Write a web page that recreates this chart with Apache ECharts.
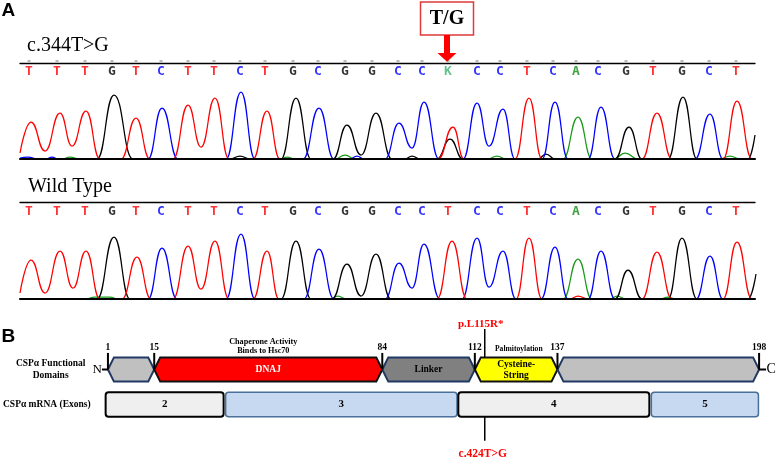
<!DOCTYPE html>
<html><head><meta charset="utf-8">
<script src="https://cdn.jsdelivr.net/npm/echarts@6/dist/echarts.min.js"></script>
<style>html,body{margin:0;padding:0;background:#fff}#c{width:778px;height:461px}</style>
</head><body><div id="c"></div>
<script>
// ---------- Panel A: sequencing data ----------
const mutBases = ['T','T','T','G','T','C','T','T','C','T','G','C','G','G','C','C','K','C','C','T','C','A','C','G','T','G','C','T'];
const wtBases  = ['T','T','T','G','T','C','T','T','C','T','G','C','G','G','C','C','T','C','C','T','C','A','C','G','T','G','C','T'];
const basePos  = [29,57,85,112,136,161,188,214,240,265,293,318,345,372,398,422,448,477,500,527,553,576,598,626,653,682,709,736];
const variantIndex = 16;
const variantLabel = 'T/G';
const mutLabel = 'c.344T>G';
const wtLabel = 'Wild Type';

// chromatogram key points [scan position, signal]
const mutT = [[20,6],[31,37],[45,8],[60,46],[72,13],[86,48],[100,0],[121,0],[136,41],[150,0],[173,0],[188,54],[201,12],[215,61],[229,0],[253,0],[267,48],[280,0],[438,0],[453,32],[464,0],[515,0],[529,61],[542,0],[642,0],[657,46],[672,0],[723,0],[737,58],[752,0],[755,0]];
const mutC = [[20,1],[28,2],[38,0],[46,0],[52,2],[58,0],[148,0],[162,51],[178,0],[226,0],[241,67],[255,0],[303,0],[319,51],[334,0],[350,0],[357,3],[364,0],[385,0],[399,36],[412,11],[424,57],[439,0],[463,0],[477,56],[489,13],[503,50],[515,0],[542,0],[555,57],[568,0],[588,0],[601,52],[615,0],[695,0],[710,45],[723,0],[755,0]];
const mutG = [[20,0],[97,0],[114,64],[133,0],[230,0],[240,3],[250,0],[281,0],[296,61],[311,0],[333,0],[347,34],[361,4],[376,46],[392,0],[405,0],[412,3],[420,0],[437,0],[450,20],[463,0],[538,0],[546,5],[555,0],[615,0],[629,32],[642,0],[668,0],[683,62],[697,0],[748,0],[755,24]];
const mutA = [[20,0],[62,0],[70,2],[80,0],[280,0],[287,2],[295,0],[335,0],[345,4],[355,0],[488,0],[497,3],[506,0],[563,0],[578,42],[592,0],[614,0],[625,6],[638,0],[720,0],[730,3],[740,0],[755,0]];

const wtT = [[20,6],[31,39],[45,6],[60,48],[73,11],[86,48],[100,0],[122,0],[137,42],[151,0],[173,0],[188,53],[201,10],[215,58],[229,0],[253,0],[267,48],[279,0],[437,0],[452,58],[467,0],[516,0],[529,61],[542,0],[570,0],[578,3],[588,0],[642,0],[657,47],[672,0],[723,0],[737,57],[752,0],[755,0]];
const wtC = [[20,0],[148,0],[162,51],[177,0],[226,0],[241,65],[255,0],[304,0],[319,50],[334,0],[385,0],[399,36],[412,11],[424,55],[440,0],[462,0],[477,61],[489,12],[503,48],[516,0],[541,0],[555,52],[568,0],[588,0],[601,48],[615,0],[696,0],[710,43],[723,0],[755,0]];
const wtG = [[20,0],[97,0],[114,62],[130,0],[281,0],[296,58],[311,0],[332,0],[347,35],[361,3],[376,45],[391,0],[615,0],[628,29],[642,0],[668,0],[682,61],[697,0],[748,0],[756,25]];
const wtA = [[20,0],[85,0],[95,2],[110,2],[118,0],[330,0],[338,3],[346,0],[563,0],[578,40],[592,0],[610,0],[617,3],[626,0],[660,0],[668,2],[676,0],[755,0]];

// ---------- Panel B: protein / mRNA map ----------
const rowLabels = ['CSPα Functional Domains', 'CSPα mRNA (Exons)'];
const domainNames = ['', 'DNAJ', 'Linker', 'Cysteine-\nString', ''];
const domainStart = [1, 15, 84, 112, 137];
const domainEnd   = [15, 84, 112, 137, 198];
const boundaryRes = [1, 15, 84, 112, 137, 198];
const exonLabels = ['2', '3', '4', '5'];
const exonStart = [0.3, 36.6, 107, 165.4];
const exonEnd   = [36, 106.6, 164.8, 197.8];
const annotText = ['Chaperone Activity\nBinds to Hsc70', 'Palmitoylation'];
const annotRes  = [48, 125.3];
const mutationRes = 115;
const proteinChange = 'p.L115R*';
const cdnaChange = 'c.424T>G';

// ---------- styles ----------
const letterColor = {T:'#ff0000', C:'#0000ff', G:'#000000', A:'#138a13', K:'#3cb371'};
const traceColor = {T:'#ff0000', C:'#0000ff', G:'#000000', A:'#1a9a1a'};
const domainFill   = ['#c0c0c0', '#ff0000', '#808080', '#ffff00', '#c0c0c0'];
const domainStroke = ['#1f3864', '#111111', '#1f3864', '#111111', '#1f3864'];
const domainText   = ['#000', '#ffffff', '#000', '#000', '#000'];
const exonFill   = ['#efefef', '#c6d9f1', '#efefef', '#c6d9f1'];
const exonStroke = ['#000000', '#4a6f98', '#000000', '#4a6f98'];
const exonLW = [2, 1.5, 2, 1.5];
const SERIF = '"Liberation Serif", "Times New Roman", serif';

const chart = echarts.init(document.getElementById('c'), null, {renderer:'canvas'});

function traceSeries(data, color, gi) {
  return {type:'line', xAxisIndex:gi, yAxisIndex:gi, data, symbol:'none', showSymbol:false,
    smooth:0.5, smoothMonotone:'x', lineStyle:{color, width:1.25}, silent:true, z:3};
}
function letterSeries(bases, gi) {
  return {type:'scatter', xAxisIndex:gi, yAxisIndex:gi, symbolSize:0, silent:true, z:5,
    data: bases.map((b,i)=>({value:[basePos[i],0.5], label:{color:letterColor[b]}})),
    label:{show:true, position:'inside', formatter:p=>bases[p.dataIndex],
      fontFamily:'"DejaVu Sans Mono", "Liberation Mono", monospace', fontWeight:'bold', fontSize:13}};
}
const gridA = (top, height) => ({left:20, width:735, top, height});
const hiddenX = (pos, showLine, lw) => ({type:'value', min:20, max:755, position:pos, z:10,
  axisLine:{show:showLine, onZero:false, lineStyle:{color:'#000', width:lw}}, axisTick:{show:false},
  axisLabel:{show:false}, splitLine:{show:false}});
const hiddenY = (max) => ({type:'value', min:0, max, show:false});

const option = {
  animation:false,
  backgroundColor:'#fff',
  grid:[gridA(63,18), gridA(89,70), gridA(202.5,18), gridA(229,70), {left:100.1, width:665.6, top:352, height:70}],
  xAxis:[hiddenX('top',true,1.3), hiddenX('bottom',true,2.2), hiddenX('top',true,1.3), hiddenX('bottom',true,2.2),
    {type:'value', min:0, max:200, gridIndex:4, show:false}].map((a,i)=>Object.assign(a,{gridIndex:i})),
  yAxis:[hiddenY(1), hiddenY(70), hiddenY(1), hiddenY(70),
    {type:'category', data:rowLabels, inverse:true, axisLine:{show:false}, axisTick:{show:false}, splitLine:{show:false},
     axisLabel:{margin:14, formatter:(v,i)=> i===0 ? '{a|CSPα Functional}\n{a|Domains}' : '{b|'+v+'}',
       rich:{a:{width:80, align:'center', fontFamily:SERIF, fontWeight:'bold', fontSize:9.5, lineHeight:11.5, color:'#000'},
             b:{fontFamily:SERIF, fontWeight:'bold', fontSize:9.5, color:'#000'}}}}
  ].map((a,i)=>Object.assign(a,{gridIndex:i})),
  graphic:[
    {type:'text', x:1.5, y:10.5, style:{text:'A', font:'bold 19px "Liberation Sans", Arial, sans-serif', fill:'#000', verticalAlign:'middle'}},
    {type:'text', x:1.5, y:336.5, style:{text:'B', font:'bold 19px "Liberation Sans", Arial, sans-serif', fill:'#000', verticalAlign:'middle'}},
    {type:'text', x:27, y:46, style:{text:mutLabel, font:'20px '+SERIF, fill:'#000', verticalAlign:'middle'}},
    {type:'text', x:28, y:186.5, style:{text:wtLabel, font:'20px '+SERIF, fill:'#000', verticalAlign:'middle'}}
  ],
  series:[
    traceSeries(mutA, traceColor.A, 1), traceSeries(mutG, traceColor.G, 1), traceSeries(mutC, traceColor.C, 1), traceSeries(mutT, traceColor.T, 1),
    traceSeries(wtA, traceColor.A, 3), traceSeries(wtG, traceColor.G, 3), traceSeries(wtC, traceColor.C, 3), traceSeries(wtT, traceColor.T, 3),
    letterSeries(mutBases, 0), letterSeries(wtBases, 2),
    // quality ticks above mutant base calls
    {type:'scatter', xAxisIndex:0, yAxisIndex:0, silent:true, symbol:'rect', symbolSize:[3,1.5], symbolOffset:[0,-11],
     itemStyle:{color:'#8a8a8a'}, data: mutBases.map((b,i)=>[basePos[i],0.5])},
    // variant call box + arrow
    {type:'custom', xAxisIndex:0, yAxisIndex:0, silent:true, z:6, data:[[basePos[variantIndex],1]],
     renderItem:(params, api)=>{
       const p = api.coord([api.value(0), 1]);
       const x = p[0] - 1, y = p[1];
       return {type:'group', children:[
         {type:'rect', shape:{x:x-26.5, y:y-61, width:53, height:33}, style:{fill:'#fff', stroke:'#e03a3a', lineWidth:1.5}},
         {type:'text', style:{text:variantLabel, x:x, y:y-44, align:'center', verticalAlign:'middle', font:'bold 20px '+SERIF, fill:'#000'}},
         {type:'rect', shape:{x:x-3, y:y-28, width:6, height:18.5}, style:{fill:'#ff0000'}},
         {type:'polygon', shape:{points:[[x-9.5,y-10],[x+9.5,y-10],[x,y-1.2]]}, style:{fill:'#ff0000'}}
       ]};
     }},
    // domains
    {type:'custom', xAxisIndex:4, yAxisIndex:4, silent:true, z:4, data:domainStart.map((s,i)=>[s,0]),
     renderItem:(params, api)=>{
       const i = params.dataIndex;
       const s = api.coord([domainStart[i],0]), e = api.coord([domainEnd[i],0]);
       const h = api.size([0,1])[1]*0.69, cy = s[1], t = cy-h/2, b = cy+h/2, d = 6;
       const x0 = s[0], x1 = e[0];
       const ch = [{type:'polygon', shape:{points:[[x0,cy],[x0+d,t],[x1-d,t],[x1,cy],[x1-d,b],[x0+d,b]]},
         style:{fill:domainFill[i], stroke:domainStroke[i], lineWidth:2, lineJoin:'miter'}}];
       if (domainNames[i]) ch.push({type:'text', style:{text:domainNames[i], x:(x0+x1)/2, y:cy+0.5, align:'center', verticalAlign:'middle',
         font:'bold 9.5px '+SERIF, lineHeight:10.5, fill:domainText[i]}});
       return {type:'group', children:ch};
     }},
    // exons
    {type:'custom', xAxisIndex:4, yAxisIndex:4, silent:true, z:4, data:exonStart.map((s,i)=>[s,1]),
     renderItem:(params, api)=>{
       const i = params.dataIndex;
       const s = api.coord([exonStart[i],1]), e = api.coord([exonEnd[i],1]);
       const h = api.size([0,1])[1]*0.70, cy = s[1];
       return {type:'group', children:[
         {type:'rect', shape:{x:s[0], y:cy-h/2, width:e[0]-s[0], height:h, r:3}, style:{fill:exonFill[i], stroke:exonStroke[i], lineWidth:exonLW[i]}},
         {type:'text', style:{text:exonLabels[i], x:(s[0]+e[0])/2, y:cy, align:'center', verticalAlign:'middle', font:'bold 11px '+SERIF, fill:'#000'}}
       ]};
     }},
    // boundary ticks, residue numbers, termini
    {type:'custom', xAxisIndex:4, yAxisIndex:4, silent:true, z:5, data:boundaryRes.map(r=>[r,0]),
     renderItem:(params, api)=>{
       const i = params.dataIndex;
       const p = api.coord([boundaryRes[i],0]);
       const h = api.size([0,1])[1]*0.69, cy = p[1];
       const ch = [
         {type:'line', shape:{x1:p[0], y1:cy-h/2-4.5, x2:p[0], y2:cy}, style:{stroke:'#000', lineWidth:2}},
         {type:'text', style:{text:String(boundaryRes[i]), x:p[0], y:cy-21.5, align:'center', verticalAlign:'middle', font:'bold 9.5px '+SERIF, fill:'#000'}}
       ];
       if (i===0) {
         ch.push({type:'line', shape:{x1:p[0]-6, y1:cy, x2:p[0], y2:cy}, style:{stroke:'#000', lineWidth:2}});
         ch.push({type:'text', style:{text:'N', x:p[0]-6, y:cy, align:'right', verticalAlign:'middle', font:'13px '+SERIF, fill:'#000'}});
       }
       if (i===boundaryRes.length-1) {
         ch.push({type:'line', shape:{x1:p[0], y1:cy, x2:p[0]+7, y2:cy}, style:{stroke:'#000', lineWidth:2}});
         ch.push({type:'text', style:{text:'C', x:p[0]+7.5, y:cy, align:'left', verticalAlign:'middle', font:'14px '+SERIF, fill:'#000'}});
       }
       return {type:'group', children:ch};
     }},
    // functional annotations
    {type:'custom', xAxisIndex:4, yAxisIndex:4, silent:true, z:5, data:annotRes.map(r=>[r,0]),
     renderItem:(params, api)=>{
       const i = params.dataIndex;
       const p = api.coord([annotRes[i],0]);
       const two = annotText[i].indexOf('\n')>=0;
       return {type:'text', style:{text:annotText[i], x:p[0], y:p[1]-(two?23.3:20.5), align:'center', verticalAlign:'middle',
         font:'bold '+(two?8.2:7.6)+'px '+SERIF, lineHeight:9.5, fill:'#000'}};
     }},
    // mutation markers
    {type:'custom', xAxisIndex:4, yAxisIndex:4, silent:true, z:5, data:[[mutationRes,0]],
     renderItem:(params, api)=>{
       const p0 = api.coord([mutationRes,0]), p1 = api.coord([mutationRes,1]);
       const band = api.size([0,1])[1];
       const top0 = p0[1]-band*0.69/2, bot1 = p1[1]+band*0.70/2;
       const x = p0[0];
       return {type:'group', children:[
         {type:'line', shape:{x1:x, y1:p0[1]-40.5, x2:x, y2:top0}, style:{stroke:'#000', lineWidth:1.5}},
         {type:'text', style:{text:proteinChange, x:x-4, y:p0[1]-45, align:'center', verticalAlign:'middle', font:'bold 11px '+SERIF, fill:'#ff0000'}},
         {type:'line', shape:{x1:x, y1:bot1, x2:x, y2:bot1+24}, style:{stroke:'#000', lineWidth:1.5}},
         {type:'text', style:{text:cdnaChange, x:x-2, y:bot1+37.5, align:'center', verticalAlign:'middle', font:'bold 11.5px '+SERIF, fill:'#ff0000'}}
       ]};
     }}
  ]
};
chart.setOption(option);
</script>
</body></html>
